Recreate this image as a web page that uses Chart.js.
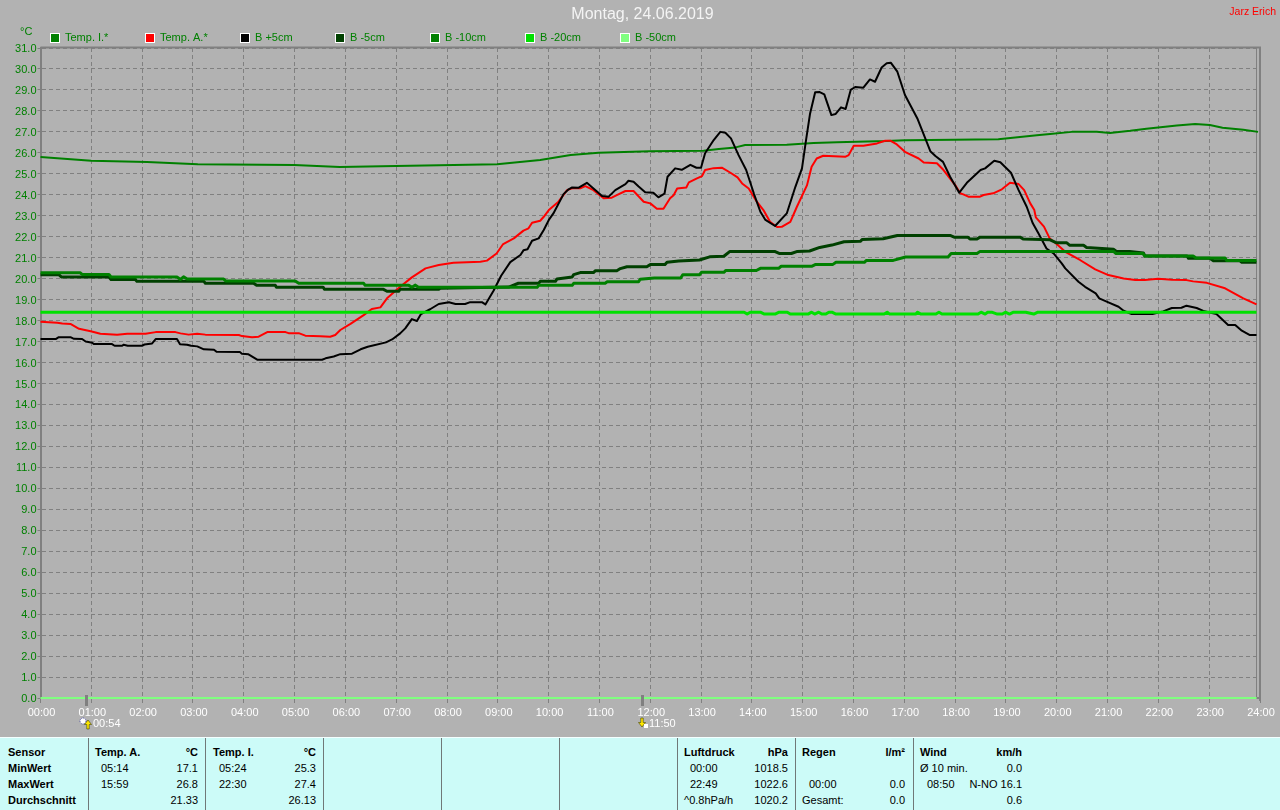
<!DOCTYPE html>
<html><head><meta charset="utf-8"><title>Montag, 24.06.2019</title>
<script src="https://cdn.jsdelivr.net/npm/chart.js@4"></script>
<style>
html,body{margin:0;padding:0;background:#b2b2b2;width:1280px;height:810px;overflow:hidden}
#wrap{position:relative;width:1280px;height:810px}
canvas{position:absolute;left:0;top:0}
#table{position:absolute;left:0;top:737px;width:1280px;height:73px;background:#ccfbf8;border-top:1px solid #f4ffff;box-sizing:border-box;font:11px "Liberation Sans",Arial,sans-serif;color:#000}
#table span{position:absolute;white-space:nowrap;line-height:14px}
#table i{position:absolute;top:0;bottom:0;width:1px;background:#707878}
</style></head><body><div id="wrap"><canvas id="c" width="1280" height="810"></canvas><div id="table"></div></div>
<script>
// [hour, °C]
const tempI=[[0,25.8],[1,25.62],[2.1,25.56],[3.1,25.46],[5,25.42],[5.9,25.33],[7,25.37],[9,25.46],[9.85,25.66],[10.45,25.9],[11,26],[12,26.08],[13.07,26.1],[13.37,26.18],[13.7,26.26],[13.89,26.37],[14.71,26.38],[15.24,26.47],[15.7,26.51],[16.68,26.56],[17.04,26.6],[18,26.62],[18.88,26.65],[19.64,26.84],[19.9,26.9],[20.33,27],[20.82,27],[21.08,26.95],[21.48,27.05],[21.8,27.15],[22.4,27.3],[22.76,27.37],[23.05,27.33],[23.3,27.2],[23.71,27.1],[24,27]];
const tempA=[[0,17.95],[0.33,17.9],[0.43,17.86],[0.59,17.84],[0.76,17.61],[0.99,17.49],[1.18,17.37],[1.51,17.33],[1.71,17.37],[2.07,17.37],[2.27,17.45],[2.66,17.45],[2.76,17.39],[2.92,17.33],[3.09,17.37],[3.25,17.33],[3.91,17.31],[3.97,17.26],[4.17,17.21],[4.3,17.23],[4.47,17.45],[4.83,17.45],[4.89,17.4],[5.09,17.4],[5.22,17.28],[5.52,17.25],[5.71,17.23],[5.81,17.31],[5.91,17.55],[6.11,17.84],[6.37,18.26],[6.53,18.55],[6.7,18.63],[6.83,19.06],[7.09,19.61],[7.32,20.06],[7.59,20.49],[7.85,20.65],[8.14,20.76],[8.67,20.81],[8.8,20.86],[8.99,21.2],[9.12,21.65],[9.33,21.92],[9.52,22.29],[9.62,22.4],[9.69,22.67],[9.85,22.76],[9.92,22.95],[10.02,23.27],[10.21,23.67],[10.38,24.22],[10.48,24.31],[10.64,24.31],[10.74,24.41],[10.9,24.22],[11.1,23.83],[11.26,23.86],[11.36,23.98],[11.53,24.18],[11.69,24.18],[11.89,23.67],[12.02,23.59],[12.15,23.33],[12.28,23.33],[12.41,23.83],[12.48,23.98],[12.55,24.3],[12.73,24.35],[12.78,24.59],[12.94,24.78],[13.04,24.89],[13.1,25.18],[13.27,25.27],[13.43,25.29],[13.6,25.05],[13.74,24.83],[13.83,24.54],[13.96,24.3],[14.12,23.67],[14.25,23.27],[14.38,22.71],[14.52,22.46],[14.61,22.47],[14.78,22.71],[14.91,23.43],[15.11,24.46],[15.2,25.34],[15.3,25.73],[15.43,25.86],[15.86,25.81],[15.93,25.89],[16.03,26.34],[16.22,26.34],[16.49,26.45],[16.65,26.58],[16.75,26.58],[16.88,26.4],[17.04,26.05],[17.31,25.73],[17.41,25.54],[17.67,25.5],[17.8,25.18],[18.03,24.46],[18.13,24.07],[18.19,24.02],[18.29,23.91],[18.52,23.91],[18.59,23.99],[18.78,24.07],[18.95,24.26],[19.11,24.57],[19.28,24.51],[19.39,24.22],[19.51,23.59],[19.59,23.27],[19.62,22.92],[19.78,22.48],[19.89,21.93],[20.03,21.65],[20.2,21.28],[20.49,20.89],[20.79,20.44],[21.05,20.17],[21.35,20.01],[21.58,19.93],[21.77,19.93],[22.03,19.99],[22.3,19.95],[22.59,19.93],[22.72,19.87],[22.99,19.8],[23.35,19.54],[23.71,19.06],[23.97,18.77]];
const bPlus5=[[0,17.12],[0.3,17.12],[0.36,17.21],[0.59,17.21],[0.66,17.13],[0.82,17.12],[0.89,17],[1.02,16.94],[1.05,16.88],[1.41,16.88],[1.46,16.8],[1.61,16.8],[1.64,16.85],[1.72,16.8],[2,16.8],[2.05,16.86],[2.2,16.91],[2.27,17.12],[2.69,17.12],[2.75,16.87],[2.89,16.85],[2.97,16.8],[3.09,16.77],[3.22,16.63],[3.42,16.61],[3.47,16.51],[3.93,16.5],[3.97,16.42],[4.1,16.39],[4.28,16.13],[5.55,16.13],[5.62,16.2],[5.78,16.29],[5.91,16.4],[6.14,16.42],[6.31,16.63],[6.45,16.75],[6.81,16.96],[6.93,17.1],[7.09,17.39],[7.19,17.63],[7.32,18.07],[7.42,17.98],[7.5,18.31],[7.68,18.54],[7.85,18.79],[8.05,18.87],[8.18,18.79],[8.37,18.79],[8.47,18.88],[8.7,18.88],[8.77,18.77],[8.93,19.42],[9.08,20.14],[9.26,20.79],[9.46,21.13],[9.52,21.35],[9.6,21.4],[9.69,21.81],[9.82,21.92],[9.92,22.32],[10.02,22.8],[10.11,23.11],[10.31,24.03],[10.41,24.26],[10.48,24.35],[10.61,24.34],[10.77,24.57],[10.94,24.22],[11.07,23.94],[11.2,23.91],[11.33,24.22],[11.53,24.51],[11.59,24.67],[11.69,24.62],[11.79,24.39],[11.92,24.12],[12.08,24.1],[12.18,23.88],[12.3,24.05],[12.36,24.86],[12.51,25.26],[12.64,25.19],[12.81,25.43],[12.93,25.29],[13.02,25.29],[13.1,25.98],[13.27,26.61],[13.4,27],[13.5,26.96],[13.61,26.69],[13.76,25.89],[13.91,25.18],[14.06,24.07],[14.19,23.19],[14.29,22.8],[14.48,22.51],[14.71,23.11],[14.88,24.38],[15.01,25.26],[15.09,26.61],[15.17,27.88],[15.27,28.89],[15.36,28.9],[15.45,28.79],[15.59,27.8],[15.67,27.85],[15.78,28.17],[15.87,28.09],[15.97,29],[16.06,29.14],[16.22,29.11],[16.35,29.5],[16.45,29.39],[16.58,30.07],[16.68,30.27],[16.76,30.3],[16.89,29.87],[17.04,28.76],[17.29,27.61],[17.54,26.08],[17.64,25.85],[17.79,25.57],[17.93,24.86],[18.11,24.1],[18.26,24.57],[18.53,25.18],[18.62,25.26],[18.8,25.62],[18.92,25.55],[19.13,25.05],[19.28,24.22],[19.44,23.43],[19.56,22.64],[19.67,22.16],[19.83,21.44],[19.97,21.2],[20.13,20.73],[20.2,20.49],[20.46,19.85],[20.59,19.61],[20.8,19.3],[20.87,19.06],[21.05,18.87],[21.25,18.66],[21.35,18.47],[21.51,18.31],[21.92,18.31],[22.13,18.44],[22.3,18.6],[22.49,18.61],[22.59,18.71],[22.79,18.6],[22.92,18.46],[23.18,18.31],[23.41,17.79],[23.55,17.79],[23.68,17.52],[23.84,17.31],[23.97,17.31]];
const bMinus5=[[0,20.19],[0.36,20.19],[0.41,20.08],[1.35,20.08],[1.39,19.96],[1.87,19.96],[1.9,19.87],[3.22,19.87],[3.25,19.78],[4.2,19.78],[4.26,19.68],[4.63,19.68],[4.65,19.59],[5.57,19.59],[5.6,19.49],[6.76,19.49],[6.83,19.4],[7.06,19.4],[7.09,19.49],[7.85,19.49],[7.88,19.54],[9.23,19.6],[9.42,19.78],[9.82,19.78],[9.85,19.87],[10.15,19.87],[10.18,19.98],[10.48,20.08],[10.51,20.19],[10.64,20.29],[10.9,20.29],[10.94,20.38],[11.36,20.38],[11.43,20.48],[11.56,20.57],[11.95,20.57],[12.02,20.67],[12.31,20.67],[12.35,20.78],[12.58,20.84],[12.99,20.89],[13.19,21.04],[13.47,21.07],[13.59,21.3],[14.47,21.3],[14.56,21.2],[14.8,21.2],[14.92,21.3],[15.16,21.32],[15.36,21.49],[15.6,21.6],[15.84,21.76],[16.16,21.78],[16.2,21.87],[16.61,21.9],[16.89,22.06],[17.93,22.06],[18.01,21.98],[18.28,21.98],[18.32,21.89],[18.46,21.89],[18.52,21.98],[19.31,21.98],[19.37,21.89],[19.9,21.85],[20.03,21.71],[20.23,21.71],[20.29,21.59],[20.56,21.59],[20.62,21.49],[21.15,21.4],[21.21,21.3],[21.47,21.3],[21.74,21.22],[21.77,21.08],[22.6,21.08],[22.63,20.97],[23.05,20.97],[23.12,20.85],[23.64,20.85],[23.68,20.78],[23.97,20.78]];
const bMinus10=[[0,20.28],[0.78,20.28],[0.82,20.2],[1.35,20.2],[1.39,20.08],[2.69,20.08],[2.76,19.96],[2.82,20.09],[2.89,19.98],[3.61,19.98],[3.65,19.89],[5.02,19.89],[5.09,19.78],[6.37,19.78],[6.4,19.68],[7.26,19.68],[7.32,19.59],[7.39,19.69],[7.45,19.59],[9.79,19.59],[9.82,19.68],[10.48,19.68],[10.51,19.78],[11.13,19.78],[11.17,19.85],[11.79,19.85],[11.82,19.97],[12.1,20.03],[12.62,20.03],[12.66,20.19],[12.99,20.19],[13.03,20.3],[13.47,20.3],[13.51,20.39],[14.11,20.39],[14.19,20.49],[14.55,20.49],[14.6,20.59],[15.2,20.59],[15.28,20.68],[15.62,20.68],[15.68,20.78],[16.24,20.78],[16.28,20.87],[16.81,20.87],[17.05,21.03],[17.89,21.03],[17.95,21.2],[18.46,21.2],[18.52,21.3],[21.15,21.3],[21.2,21.2],[21.73,21.2],[21.77,21.08],[22.72,21.08],[22.78,20.98],[23.35,20.98],[23.38,20.87],[23.97,20.87]];
const bMinus20=[[0,18.4],[13.87,18.4],[13.93,18.31],[13.99,18.4],[14.19,18.4],[14.27,18.31],[14.48,18.31],[14.56,18.4],[14.72,18.4],[14.78,18.31],[15.13,18.31],[15.2,18.4],[15.26,18.31],[15.34,18.4],[15.4,18.31],[15.48,18.31],[15.54,18.4],[15.6,18.4],[15.68,18.31],[16.63,18.31],[16.69,18.4],[16.74,18.31],[17.25,18.31],[17.29,18.4],[17.35,18.31],[17.65,18.31],[17.71,18.4],[17.77,18.31],[18.48,18.31],[18.54,18.4],[18.62,18.31],[18.67,18.4],[18.75,18.4],[18.86,18.31],[18.96,18.31],[19.02,18.4],[19.1,18.31],[19.18,18.4],[19.42,18.4],[19.58,18.31],[19.66,18.4],[23.97,18.4]];
const bMinus50=[[0,0],[23.97,0]];

const hourTicks=[0,1,2,3,4,5,6,7,8,9,10,11,12,13,14,15,16,17,18,19,20,21,22,23,24];
const legendNames=["Temp. I.*","Temp. A.*","B +5cm","B -5cm","B -10cm","B -20cm","B -50cm"];
const legendColors=["#008000","#ff0000","#000000","#004000","#008000","#00e000","#80ff80"];
const lineWidths=[2,2,2,3,3,3,2];
const sunEvents=[[0.9,"00:54"],[11.833,"11:50"]];
const titleText="Montag, 24.06.2019";
const FONT='"Liberation Sans",Arial,sans-serif';
const AXIS='#808080';
const series=[tempI,tempA,bPlus5,bMinus5,bMinus10,bMinus20,bMinus50];
const readScale=0.9984; // hours above were read against a slightly shorter hour width

const overlay={id:'overlay',
 beforeDatasetsDraw(ch){
  const {ctx,chartArea:a}=ch;ctx.save();ctx.strokeStyle=AXIS;
  ctx.lineWidth=2;ctx.beginPath();ctx.moveTo(a.left,a.top-0.5);ctx.lineTo(a.right+1,a.top-0.5);ctx.moveTo(a.right,a.top-1);ctx.lineTo(a.right,a.bottom+3);ctx.stroke();
  ctx.lineWidth=1;ctx.beginPath();ctx.moveTo(a.right-3.5,a.top);ctx.lineTo(a.right-3.5,a.bottom);ctx.stroke();
  ctx.restore();
 },
 afterDraw(ch){
  const {ctx,scales:{x}}=ch;ctx.save();
  ctx.textBaseline='middle';
  // title
  ctx.font='16px '+FONT;ctx.fillStyle='#f4f4f4';ctx.textAlign='center';ctx.fillText(titleText,642.5,15);
  ctx.font='11px '+FONT;
  // unit, owner
  ctx.fillStyle='#008000';ctx.textAlign='left';ctx.fillText('°C',20,32);
  ctx.font='10.5px '+FONT;
  ctx.fillStyle='#ff0000';ctx.textAlign='right';ctx.fillText('Jarz Erich',1276,12);
  ctx.font='11px '+FONT;
  // legend
  ctx.textAlign='left';
  legendNames.forEach((n,i)=>{const lx=50+95*i;
   ctx.fillStyle='#ffffff';ctx.fillRect(lx,33,10,10);
   ctx.fillStyle=legendColors[i];ctx.fillRect(lx+1,34,8,8);
   ctx.fillStyle='#008000';ctx.fillText(n,lx+15,38);});
  // sunrise / sunset marks
  sunEvents.forEach(([h,t],i)=>{const px=Math.round(x.getPixelForValue(h));
   ctx.fillStyle=AXIS;ctx.fillRect(px-1,695,3,11);
   const yellow=(cx,tipY,baseY)=>{ctx.fillStyle='#ffe800';ctx.strokeStyle='#404000';ctx.lineWidth=0.6;ctx.beginPath();ctx.moveTo(cx,tipY);ctx.lineTo(cx+3.5,(tipY+baseY)/2);ctx.lineTo(cx+1.2,(tipY+baseY)/2);ctx.lineTo(cx+1.2,baseY);ctx.lineTo(cx-1.2,baseY);ctx.lineTo(cx-1.2,(tipY+baseY)/2);ctx.lineTo(cx-3.5,(tipY+baseY)/2);ctx.closePath();ctx.fill();ctx.stroke();};
   if(i===0){ctx.fillStyle='#ffffff';ctx.strokeStyle='#4040a0';ctx.lineWidth=1;ctx.setLineDash([1,1]);ctx.beginPath();ctx.arc(px-3,721,3,0,7);ctx.fill();ctx.stroke();ctx.setLineDash([]);yellow(px+2,720,729);}
   else{yellow(px,727,718);ctx.fillStyle='#ffffff';ctx.fillRect(px+2,724,4,4);}
   ctx.fillStyle='#ffffff';ctx.textAlign='left';ctx.fillText(t,px+7,724);
  });
  ctx.restore();
 }};

new Chart(document.getElementById('c'),{
 type:'line',
 plugins:[overlay],
 data:{datasets:series.map((s,i)=>({
   label:legendNames[i],
   data:s.map(([h,v])=>({x:h*readScale,y:v})),
   borderColor:legendColors[i],backgroundColor:legendColors[i],
   borderWidth:lineWidths[i],pointRadius:0,tension:0,fill:false,
   borderJoinStyle:'round',order:series.length-i,clip:false}))},
 options:{responsive:false,animation:false,events:[],devicePixelRatio:1,
  layout:{padding:{left:0,right:20,top:48,bottom:0}},
  plugins:{legend:{display:false},tooltip:{enabled:false},title:{display:false}},
  scales:{
   x:{type:'linear',min:0,max:24,afterFit(s){s.height=112;},
     afterBuildTicks(s){s.ticks=hourTicks.map(v=>({value:v}));},
     ticks:{autoSkip:false,maxRotation:0,color:'#ffffff',padding:3,labelOffset:1,font:{family:FONT,size:11},
       callback:v=>String(v).padStart(2,'0')+':00'},
     grid:{color:AXIS,lineWidth:1,tickLength:5,tickColor:AXIS,tickBorderDash:[]},
     border:{color:AXIS,width:2,dash:[4,3]}},
   y:{type:'linear',min:0,max:31,afterFit(s){s.width=40.5;},
     ticks:{stepSize:1,autoSkip:false,color:'#008000',padding:1,labelOffset:1,font:{family:FONT,size:11},
       callback:v=>Number(v).toFixed(1)},
     grid:{color:AXIS,lineWidth:1,tickLength:3,tickColor:AXIS,tickBorderDash:[]},
     border:{color:AXIS,width:2,dash:[4,3]}}
  }}
});

// summary panel under the chart
const dividers=[88,205,323,441,559,677,795,913];
const rowsY=[7,23,39,55];
const cells=[
 [8,0,'Sensor','b'],[8,1,'MinWert','b'],[8,2,'MaxWert','b'],[8,3,'Durchschnitt','b'],
 [95,0,'Temp. A.','b'],[198,0,'°C','br'],[101,1,'05:14'],[198,1,'17.1','r'],[101,2,'15:59'],[198,2,'26.8','r'],[198,3,'21.33','r'],
 [213,0,'Temp. I.','b'],[316,0,'°C','br'],[219,1,'05:24'],[316,1,'25.3','r'],[219,2,'22:30'],[316,2,'27.4','r'],[316,3,'26.13','r'],
 [684,0,'Luftdruck','b'],[788,0,'hPa','br'],[690,1,'00:00'],[788,1,'1018.5','r'],[690,2,'22:49'],[788,2,'1022.6','r'],[684,3,'^0.8hPa/h'],[788,3,'1020.2','r'],
 [802,0,'Regen','b'],[905,0,'l/m²','br'],[809,2,'00:00'],[905,2,'0.0','r'],[802,3,'Gesamt:'],[905,3,'0.0','r'],
 [920,0,'Wind','b'],[1022,0,'km/h','br'],[920,1,'Ø 10 min.'],[1022,1,'0.0','r'],[927,2,'08:50'],[1022,2,'N-NO 16.1','r'],[1022,3,'0.6','r']
];
const tb=document.getElementById('table');
dividers.forEach(x=>{const d=document.createElement('i');d.style.left=x+'px';tb.appendChild(d);});
cells.forEach(([x,r,t,f=''])=>{const s=document.createElement('span');s.textContent=t;
 s.style.top=rowsY[r]+'px';
 if(f.includes('r'))s.style.right=(1280-x)+'px';else s.style.left=x+'px';
 if(f.includes('b'))s.style.fontWeight='bold';
 tb.appendChild(s);});
</script></body></html>
